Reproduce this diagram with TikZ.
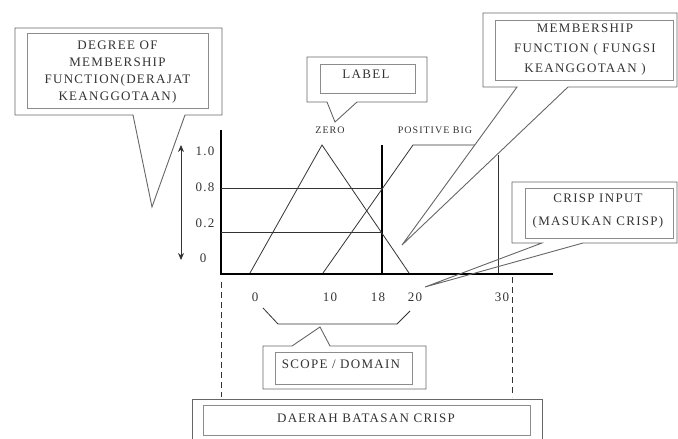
\documentclass[tikz,border=0pt]{standalone}
\usepackage{fontspec}
\setmainfont[LetterSpace=10]{Liberation Serif}
\usetikzlibrary{arrows.meta}
\begin{document}
\begin{tikzpicture}[x=1pt, y=-1pt,
		callout/.style={draw=black!60, line width=0.9pt},
		inbox/.style={draw=black!45, line width=0.7pt},
		curve/.style={black!80, line width=0.8pt},
		lbl/.style={font=\fontsize{13}{17}\selectfont, align=center, text=black!80, inner sep=0pt},
		small/.style={font=\fontsize{10}{11}\selectfont, text=black!80, inner sep=0pt}]
			\useasboundingbox (0,0) rectangle (678,439);
			\clip (0,0) rectangle (678,439);
			% axes
			\draw[line width=2.6pt] (221,130) -- (221,274) -- (553,274);
			\draw[line width=1.6pt] (382,145) -- (382,274);
			\draw[curve] (221,188) -- (382,188);
			\draw[curve] (221,232) -- (382,232);
			\draw[curve] (250,273) -- (322,145) -- (409,273);
			\draw[curve] (323,273) -- (413,145) -- (475,145);
			\draw[curve] (498,155) -- (498,273);
			\draw[curve, {Stealth[length=7pt,width=6pt]}-{Stealth[length=7pt,width=6pt]}] (181,145) -- (181,260);
			\node[lbl] (v10) at (205,151) {1.0};
			\node[lbl] (v08) at (205,187) {0.8};
			\node[lbl] (v02) at (205,223) {0.2};
			\node[lbl] (v00) at (203,258) {0};
			\node[lbl] (t0) at (255,297) {0};
			\node[lbl] (t10) at (330,297) {10};
			\node[lbl] (t18) at (378,297) {18};
			\node[lbl] (t20) at (415,297) {20};
			\node[lbl] (t30) at (502,297) {30};
			\node[small] (zero) at (330,130) {ZERO};
			\node[small] (posbig) at (435,130) {POSITIVE BIG};
			\draw[curve, dashed, dash pattern=on 6pt off 4pt] (221,282) -- (221,397);
			\draw[curve, dashed, dash pattern=on 6pt off 4pt] (512,277) -- (512,397);
			\draw[curve] (263,308) -- (278,324) -- (397,324) -- (410,311);
			% degree of membership
			\draw[callout, fill=white] (15,28) -- (222,28) -- (222,115) -- (185,115) -- (152,207) -- (133,115) -- (15,115) -- cycle;
			\draw[inbox] (27,33) rectangle (208,108);
			\node[lbl] (degree) at (117.5,72) {DEGREE OF\\MEMBERSHIP\\FUNCTION(DERAJAT\\KEANGGOTAAN)};
			% label
			\draw[callout, fill=white] (307,57) -- (427,57) -- (427,102) -- (357,102) -- (335,122) -- (327,102) -- (307,102) -- cycle;
			\draw[inbox] (320,64) rectangle (415,93);
			\node[lbl] (label) at (366,74) {LABEL};
			% membership function
			\draw[callout] (483,13) -- (677,13) -- (677,87) -- (568,87) -- (402,245) -- (517,87) -- (483,87) -- cycle;
			\draw[inbox] (495,20) rectangle (673,80);
			\node[lbl, font=\fontsize{13}{20}\selectfont] (mf) at (585,50) {MEMBERSHIP\\FUNCTION ( FUNGSI\\KEANGGOTAAN )};
			% crisp input
			\draw[callout] (512,182) -- (677,182) -- (677,243) -- (583,243) -- (425,287) -- (542,243) -- (512,243) -- cycle;
			\draw[inbox] (525,188) rectangle (673,238);
			\node[lbl, font=\fontsize{13}{23}\selectfont] (crisp) at (598,211.5) {CRISP INPUT\\(MASUKAN CRISP)};
			% scope
			\draw[callout] (263,346) -- (292,346) -- (320,327) -- (330,346) -- (426,346) -- (426,389) -- (263,389) -- cycle;
			\draw[inbox] (275,352) rectangle (412,384);
			\node[lbl] (scope) at (341,364) {SCOPE / DOMAIN};
			% daerah
			\draw[callout] (192,399) rectangle (542,450);
			\draw[inbox] (203,405) rectangle (530,435);
			\node[lbl] (daerah) at (366,418) {DAERAH BATASAN CRISP};
		\end{tikzpicture}
\end{document}
